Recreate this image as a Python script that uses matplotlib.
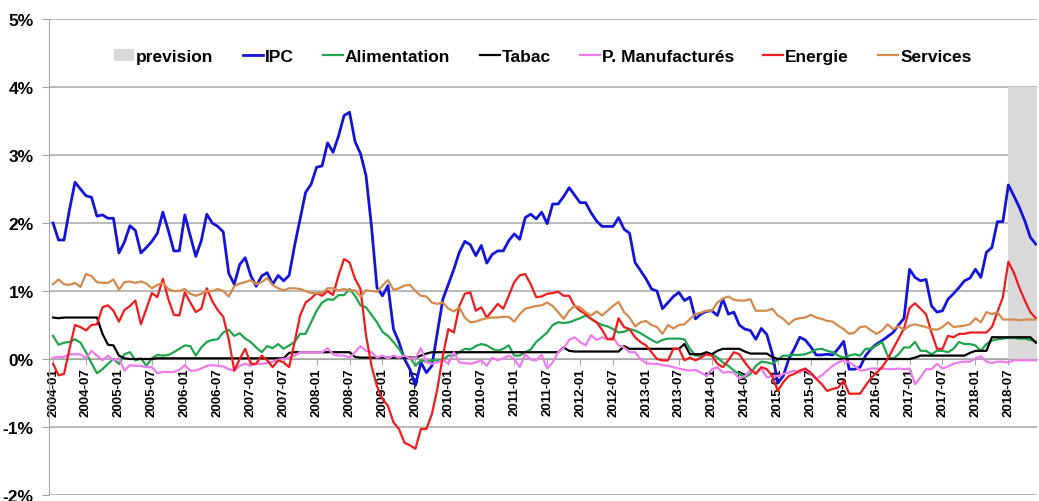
import matplotlib
matplotlib.use("Agg")
import matplotlib.pyplot as plt
import numpy as np
import pandas as pd

plt.rcParams['font.family'] = ['Liberation Sans', 'DejaVu Sans']
plt.rcParams['font.weight'] = 'bold'

# monthly, 2004-01 .. 2018-12 (one line per year)
ipc = [
    2.0, 1.75, 1.75, 2.2, 2.6, 2.5, 2.4, 2.38, 2.1, 2.12, 2.07, 2.07,
    1.56, 1.72, 1.96, 1.89, 1.56, 1.64, 1.73, 1.85, 2.16, 1.89, 1.59, 1.59,
    2.12, 1.81, 1.51, 1.74, 2.13, 2.0, 1.95, 1.87, 1.26, 1.1, 1.39, 1.49,
    1.23, 1.07, 1.22, 1.27, 1.1, 1.23, 1.15, 1.23, 1.67, 2.06, 2.45, 2.57,
    2.82, 2.84, 3.18, 3.04, 3.28, 3.58, 3.63, 3.2, 3.02, 2.7, 1.95, 1.05,
    0.93, 1.08, 0.44, 0.25, 0.0, -0.15, -0.39, -0.05, -0.2, -0.1, 0.39, 0.88,
    1.1, 1.32, 1.57, 1.73, 1.68, 1.52, 1.67, 1.41, 1.54, 1.59, 1.59, 1.74,
    1.84, 1.76, 2.08, 2.13, 2.06, 2.16, 1.99, 2.28, 2.28, 2.39, 2.52, 2.41,
    2.30, 2.30, 2.15, 2.03, 1.95, 1.95, 1.95, 2.08, 1.91, 1.85, 1.42, 1.30,
    1.18, 1.03, 1.0, 0.74, 0.83, 0.92, 0.98, 0.86, 0.91, 0.59, 0.66, 0.70,
    0.71, 0.64, 0.88, 0.66, 0.69, 0.5, 0.44, 0.42, 0.29, 0.45, 0.36, 0.08,
    -0.35, -0.25, 0.0, 0.15, 0.32, 0.28, 0.18, 0.06, 0.06, 0.07, 0.06, 0.15,
    0.26, -0.15, -0.15, -0.12, 0.05, 0.15, 0.22, 0.27, 0.33, 0.39, 0.5, 0.6,
    1.32, 1.2, 1.15, 1.17, 0.78, 0.69, 0.71, 0.88, 0.96, 1.05, 1.15, 1.19,
    1.32, 1.2, 1.57, 1.64, 2.02, 2.02, 2.56, 2.4, 2.23, 2.03, 1.79, 1.69,
]
alimentation = [
    0.34, 0.21, 0.24, 0.25, 0.29, 0.24, 0.1, -0.06, -0.21, -0.15, -0.07, 0.0,
    -0.07, 0.07, 0.1, -0.02, 0.01, -0.1, 0.01, 0.06, 0.05, 0.06, 0.1, 0.15,
    0.2, 0.19, 0.05, 0.17, 0.25, 0.28, 0.29, 0.39, 0.43, 0.34, 0.38, 0.3,
    0.25, 0.17, 0.1, 0.19, 0.16, 0.22, 0.15, 0.2, 0.25, 0.37, 0.37, 0.54,
    0.71, 0.83, 0.88, 0.87, 0.94, 0.94, 1.03, 0.93, 0.79, 0.76, 0.65, 0.54,
    0.4, 0.34, 0.25, 0.15, 0.02, 0.03, -0.1, -0.02, -0.04, -0.02, -0.02, -0.01,
    0.05, 0.05, 0.1, 0.15, 0.14, 0.19, 0.22, 0.2, 0.15, 0.12, 0.15, 0.2,
    0.05, 0.05, 0.1, 0.14, 0.25, 0.32, 0.39, 0.5, 0.54, 0.53, 0.54, 0.57,
    0.6, 0.64, 0.59, 0.54, 0.5, 0.48, 0.44, 0.39, 0.4, 0.44, 0.42, 0.38,
    0.33, 0.28, 0.24, 0.28, 0.3, 0.3, 0.3, 0.29, 0.15, 0.05, 0.05, 0.07,
    0.07, 0.02, -0.05, -0.1, -0.17, -0.22, -0.27, -0.22, -0.1, -0.04, -0.05, -0.07,
    -0.01, 0.05, 0.05, 0.06, 0.06, 0.07, 0.1, 0.14, 0.15, 0.12, 0.1, 0.05,
    0.02, 0.05, 0.07, 0.05, 0.15, 0.15, 0.2, 0.25, 0.05, 0.0, 0.07, 0.17,
    0.17, 0.25, 0.12, 0.12, 0.07, 0.12, 0.12, 0.1, 0.15, 0.25, 0.22, 0.22,
    0.2, 0.12, 0.22, 0.27, 0.29, 0.3, 0.31, 0.31, 0.3, 0.3, 0.28, 0.26,
]
tabac = [
    0.61, 0.6, 0.61, 0.61, 0.61, 0.61, 0.61, 0.61, 0.61, 0.37, 0.21, 0.2,
    0.05, 0.01, 0.0, 0.0, 0.0, 0.0, 0.0, 0.01, 0.01, 0.01, 0.01, 0.01,
    0.01, 0.01, 0.01, 0.01, 0.01, 0.01, 0.01, 0.01, 0.01, 0.01, 0.01, 0.01,
    0.01, 0.01, 0.01, 0.01, 0.01, 0.01, 0.01, 0.09, 0.1, 0.1, 0.1, 0.1,
    0.1, 0.1, 0.1, 0.1, 0.1, 0.1, 0.1, 0.03, 0.02, 0.02, 0.02, 0.02,
    0.02, 0.02, 0.02, 0.02, 0.02, 0.02, 0.02, 0.05, 0.08, 0.1, 0.1, 0.1,
    0.1, 0.1, 0.1, 0.1, 0.1, 0.1, 0.1, 0.1, 0.1, 0.1, 0.1, 0.1,
    0.1, 0.1, 0.1, 0.1, 0.1, 0.1, 0.1, 0.1, 0.1, 0.17, 0.12, 0.11,
    0.11, 0.11, 0.11, 0.11, 0.11, 0.11, 0.11, 0.11, 0.19, 0.15, 0.15, 0.15,
    0.15, 0.15, 0.15, 0.15, 0.15, 0.15, 0.15, 0.22, 0.07, 0.07, 0.07, 0.1,
    0.07, 0.12, 0.15, 0.15, 0.15, 0.15, 0.11, 0.08, 0.08, 0.08, 0.08, 0.03,
    0.0, 0.0, 0.0, 0.0, 0.0, 0.0, 0.0, 0.0, 0.0, 0.0, 0.0, 0.0,
    0.0, 0.0, 0.0, 0.0, 0.0, 0.0, 0.0, 0.0, 0.0, 0.0, 0.0, 0.0,
    0.0, 0.02, 0.05, 0.05, 0.05, 0.05, 0.05, 0.05, 0.05, 0.05, 0.05, 0.09,
    0.12, 0.12, 0.12, 0.32, 0.32, 0.32, 0.32, 0.32, 0.32, 0.32, 0.32, 0.24,
]
p_manuf = [
    0.02, 0.03, 0.03, 0.07, 0.07, 0.07, 0.01, 0.12, 0.05, -0.02, 0.05, -0.02,
    0.01, -0.17, -0.09, -0.1, -0.1, -0.12, -0.12, -0.21, -0.19, -0.19, -0.19, -0.16,
    -0.09, -0.17, -0.17, -0.14, -0.1, -0.09, -0.1, -0.11, -0.15, -0.17, -0.1, -0.07,
    -0.1, -0.07, -0.07, -0.06, -0.04, -0.01, 0.0, 0.02, 0.05, 0.1, 0.1, 0.1,
    0.1, 0.1, 0.16, 0.07, 0.05, 0.05, 0.02, 0.1, 0.19, 0.12, 0.1, 0.02,
    0.05, 0.01, 0.05, 0.02, 0.05, 0.01, 0.01, 0.16, -0.05, -0.07, -0.05, -0.01,
    -0.07, 0.1, -0.05, -0.06, -0.07, -0.05, -0.02, -0.1, 0.02, -0.02, 0.01, 0.05,
    0.0, -0.12, 0.07, -0.01, -0.02, 0.06, -0.14, -0.05, 0.1, 0.16, 0.28, 0.32,
    0.25, 0.2, 0.35, 0.28, 0.32, 0.29, 0.32, 0.2, 0.17, 0.1, 0.1, 0.0,
    -0.06, -0.07, -0.07, -0.09, -0.1, -0.12, -0.14, -0.16, -0.17, -0.16, -0.2, -0.25,
    -0.15, -0.12, -0.2, -0.19, -0.2, -0.29, -0.25, -0.17, -0.2, -0.14, -0.27, -0.25,
    -0.25, -0.22, -0.2, -0.17, -0.2, -0.15, -0.22, -0.29, -0.24, -0.17, -0.1, -0.05,
    -0.02, -0.05, -0.1, -0.17, -0.16, -0.14, -0.14, -0.14, -0.15, -0.15, -0.14, -0.15,
    -0.14, -0.37, -0.27, -0.15, -0.15, -0.07, -0.14, -0.11, -0.07, -0.05, -0.04, -0.04,
    0.01, 0.04, -0.04, -0.06, -0.04, -0.04, -0.05, -0.02, -0.02, -0.02, -0.02, -0.02,
]
energie = [
    -0.07, -0.24, -0.22, 0.15, 0.5, 0.47, 0.42, 0.5, 0.51, 0.76, 0.79, 0.71,
    0.55, 0.72, 0.78, 0.86, 0.51, 0.74, 0.97, 0.91, 1.18, 0.88, 0.65, 0.64,
    0.98, 0.83, 0.69, 0.74, 1.04, 0.85, 0.72, 0.62, 0.29, -0.17, 0.0, 0.15,
    -0.07, -0.07, 0.05, -0.02, -0.12, -0.02, -0.05, -0.12, 0.25, 0.64, 0.83, 0.89,
    0.97, 0.93, 1.0, 0.94, 1.23, 1.47, 1.42, 1.18, 1.03, 0.35, -0.1, -0.4,
    -0.59, -0.69, -0.93, -1.03, -1.23, -1.27, -1.32, -1.03, -1.03, -0.81, -0.44, 0.05,
    0.44, 0.39, 0.78, 0.96, 0.98, 0.71, 0.76, 0.61, 0.71, 0.81, 0.74, 0.93,
    1.13, 1.23, 1.25, 1.1, 0.91, 0.92, 0.96, 0.97, 0.99, 0.93, 0.93, 0.78,
    0.71, 0.66, 0.59, 0.54, 0.43, 0.29, 0.29, 0.6, 0.47, 0.44, 0.32, 0.25,
    0.2, 0.1, 0.0, -0.02, -0.02, 0.15, 0.15, -0.02, 0.02, -0.02, 0.02, 0.07,
    0.05, -0.07, -0.12, -0.02, 0.1, 0.07, -0.05, -0.15, -0.22, -0.12, -0.15, -0.25,
    -0.47, -0.34, -0.25, -0.22, -0.17, -0.14, -0.2, -0.29, -0.37, -0.47, -0.44, -0.42,
    -0.32, -0.51, -0.51, -0.51, -0.39, -0.28, -0.2, -0.12, 0.0, 0.15, 0.3, 0.45,
    0.75, 0.82, 0.74, 0.66, 0.39, 0.15, 0.15, 0.34, 0.32, 0.37, 0.37, 0.39,
    0.39, 0.39, 0.39, 0.47, 0.69, 0.91, 1.43, 1.27, 1.05, 0.86, 0.69, 0.6,
]
services = [
    1.10, 1.17, 1.10, 1.09, 1.12, 1.06, 1.25, 1.22, 1.13, 1.12, 1.12, 1.17,
    1.02, 1.13, 1.14, 1.12, 1.14, 1.11, 1.04, 1.09, 1.12, 1.03, 1.0, 1.0,
    1.03, 0.96, 0.93, 0.96, 1.0, 1.0, 1.03, 1.0, 0.92, 1.07, 1.11, 1.13,
    1.16, 1.10, 1.13, 1.19, 1.09, 1.04, 1.01, 1.04, 1.04, 1.03, 1.0, 0.97,
    0.97, 0.97, 1.04, 1.04, 1.01, 1.03, 1.01, 1.01, 0.92, 1.01, 1.0, 0.99,
    1.08, 1.16, 1.02, 1.04, 1.08, 1.09, 1.0, 0.93, 0.92, 0.83, 0.81, 0.83,
    0.74, 0.7, 0.76, 0.61, 0.54, 0.55, 0.58, 0.6, 0.61, 0.61, 0.62, 0.62,
    0.55, 0.66, 0.74, 0.76, 0.78, 0.79, 0.83, 0.78, 0.69, 0.59, 0.71, 0.78,
    0.76, 0.69, 0.64, 0.7, 0.64, 0.71, 0.78, 0.84, 0.69, 0.61, 0.48, 0.54,
    0.56, 0.5, 0.47, 0.37, 0.5, 0.45, 0.5, 0.51, 0.59, 0.66, 0.68, 0.71,
    0.71, 0.83, 0.89, 0.92, 0.87, 0.86, 0.86, 0.88, 0.71, 0.71, 0.71, 0.74,
    0.64, 0.59, 0.51, 0.58, 0.6, 0.61, 0.65, 0.61, 0.59, 0.56, 0.55, 0.49,
    0.44, 0.37, 0.39, 0.47, 0.48, 0.42, 0.37, 0.42, 0.51, 0.44, 0.48, 0.43,
    0.49, 0.51, 0.49, 0.47, 0.44, 0.43, 0.47, 0.54, 0.47, 0.48, 0.49, 0.51,
    0.6, 0.54, 0.69, 0.66, 0.69, 0.58, 0.58, 0.58, 0.57, 0.58, 0.58, 0.58,
]
# prevision period (2018-07 .. 2018-12), drawn as grey bars up to 4%
prevision_start = "2018-07"
prevision_level = 4

dates = pd.date_range("2004-01", periods=len(ipc), freq="MS")
labels = dates.strftime("%Y-%m")
x = np.arange(len(dates))

fig = plt.figure(figsize=(10.39, 5.02), dpi=100)
ax = fig.add_axes([0.0472, 0.012, 0.9508, 0.948])

# spine position first: moving it resets the ticks
ax.spines["bottom"].set_position(("data", 0))
ax.spines["bottom"].set_color("#A6A6A6")
ax.spines["left"].set_color("#A6A6A6")
ax.spines["top"].set_visible(False)
ax.spines["right"].set_visible(False)

prev = x[labels >= prevision_start]
bars = ax.bar(prev, [prevision_level] * len(prev), width=1.0, align="edge",
              color="#D9D9D9", label="prevision", zorder=1)

series = [
    ("IPC", ipc, "#1414D8", 2.0),
    ("Alimentation", alimentation, "#1FA54E", 1.6),
    ("Tabac", tabac, "#000000", 1.6),
    ("P. Manufacturés", p_manuf, "#EE7BEE", 1.6),
    ("Energie", energie, "#EE1C1C", 1.6),
    ("Services", services, "#D48A4C", 1.6),
]
handles = [bars]
for name, vals, col, lw in series:
    line, = ax.plot(x, vals, color=col, lw=lw, label=name, zorder=3)
    handles.append(line)

ax.set_xlim(-0.73, 179.2)
ax.set_ylim(-2, 5)
ax.set_yticks(range(-2, 6))
ax.set_yticklabels(["{}%".format(v) for v in range(-2, 6)], fontsize=12.5, fontweight="bold")
ax.yaxis.grid(True, color="#A6A6A6", lw=1.1, zorder=0)
ax.tick_params(axis="y", length=5, color="#A6A6A6", pad=6)

ticks = x[::6]
ax.set_xticks(ticks)
ax.set_xticklabels(labels[::6], rotation=90, fontsize=9.5, fontweight="bold")
ax.tick_params(axis="x", length=4, color="#A6A6A6", pad=2)
ax.set_axisbelow(True)

leg = ax.legend(handles=handles, loc="center", bbox_to_anchor=(0.5, 0.922), ncol=7,
                frameon=False, handlelength=1.15, handletextpad=0.1, columnspacing=1.7,
                prop={"weight": "bold", "size": 12.5})

fig.savefig("out.png", dpi=100)
